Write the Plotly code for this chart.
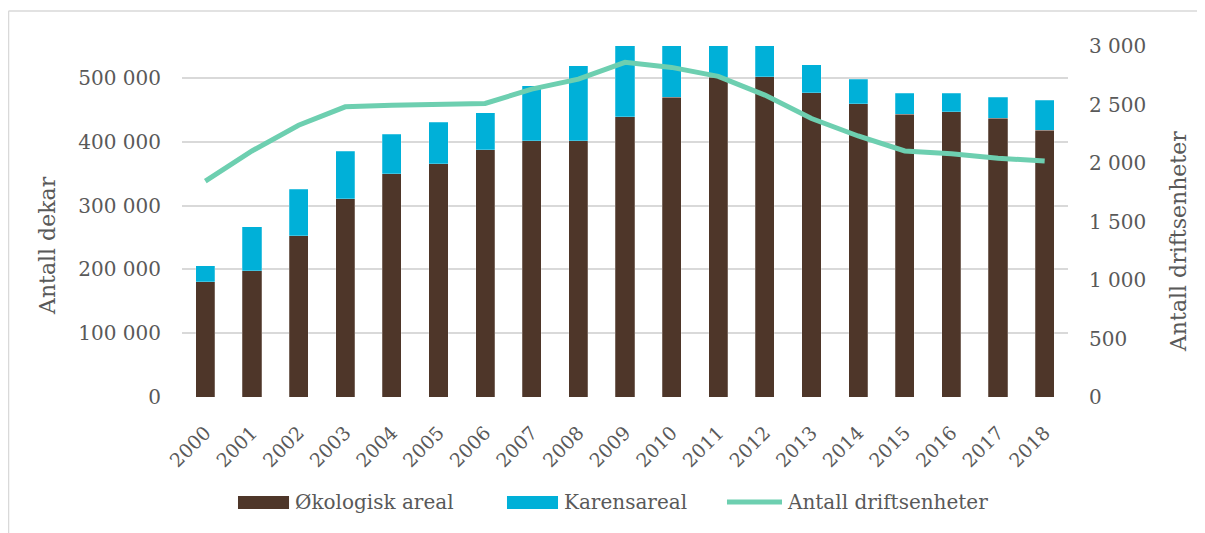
import plotly.graph_objects as go

years = [str(y) for y in range(2000, 2019)]
okologisk = [180700, 198000, 252800, 310800, 350000, 365700, 387600, 401300, 401800,
             439400, 469700, 501000, 502000, 476500, 459800, 443100, 446700, 436800, 418000]
karens = [25000, 69000, 73000, 74300, 62000, 64800, 58000, 86700, 117500,
          130000, 100000, 70000, 65000, 44000, 38000, 33000, 29000, 33000, 47000]
driftsenheter = [1845, 2103, 2323, 2480, 2494, 2505, 2509, 2631, 2717,
                 2860, 2817, 2740, 2580, 2380, 2231, 2103, 2080, 2040, 2017]

left_ticks = [0, 100000, 200000, 300000, 400000, 500000]
left_ticktext = ["0", "100 000", "200 000", "300 000", "400 000", "500 000"]
right_ticks = [0, 500, 1000, 1500, 2000, 2500, 3000]
right_ticktext = ["0", "500", "1 000", "1 500", "2 000", "2 500", "3 000"]

names = ["Økologisk areal", "Karensareal", "Antall driftsenheter"]
colors = ["#4E3629", "#00B0D8", "#6DCFB0"]
left_title = "Antall dekar"
right_title = "Antall driftsenheter"

FONT = "DejaVu Serif, Liberation Serif, serif"
GREY = "#595959"

fig = go.Figure()
fig.add_trace(go.Bar(x=years, y=okologisk, name=names[0],
                     marker=dict(color=colors[0], line=dict(color="rgba(255,255,255,0.4)", width=0.6))))
fig.add_trace(go.Bar(x=years, y=karens, name=names[1],
                     marker=dict(color=colors[1], line=dict(color="rgba(255,255,255,0.4)", width=0.6))))
fig.add_trace(go.Scatter(x=years, y=driftsenheter, name=names[2], yaxis="y2",
                         mode="lines", line=dict(color=colors[2], width=5)))

# custom legend (wide swatches as in the original)
legend_shapes = [
    dict(type="rect", xref="paper", yref="paper", x0=0.0632, x1=0.1208, y0=-0.319, y1=-0.282,
         fillcolor=colors[0], line=dict(width=0)),
    dict(type="rect", xref="paper", yref="paper", x0=0.3668, x1=0.4244, y0=-0.319, y1=-0.282,
         fillcolor=colors[1], line=dict(width=0)),
    dict(type="line", xref="paper", yref="paper", x0=0.6151, x1=0.6772, y0=-0.299, y1=-0.299,
         line=dict(color=colors[2], width=5)),
]
legend_text = [
    dict(x=0.1253, text=names[0]),
    dict(x=0.4289, text=names[1]),
    dict(x=0.6806, text=names[2]),
]
annotations = [dict(xref="paper", yref="paper", y=-0.299, xanchor="left", yanchor="middle",
                    showarrow=False, font=dict(size=20, color=GREY, family=FONT), **t)
               for t in legend_text]
annotations += [
    dict(xref="paper", yref="paper", x=-0.1524, y=0.433, text=left_title, textangle=-90,
         showarrow=False, xanchor="center", yanchor="middle", font=dict(size=22, color=GREY, family=FONT)),
    dict(xref="paper", yref="paper", x=1.124, y=0.444, text=right_title, textangle=-90,
         showarrow=False, xanchor="center", yanchor="middle", font=dict(size=22, color=GREY, family=FONT)),
]

frame = [
    dict(type="line", xref="paper", yref="paper", x0=-0.1958, x1=1.16, y0=1.1, y1=1.1,
         line=dict(color="#D9D9D9", width=1.5)),
    dict(type="line", xref="paper", yref="paper", x0=-0.1958, x1=-0.1958, y0=-0.42, y1=1.1,
         line=dict(color="#D9D9D9", width=1.5)),
]

fig.update_layout(
    width=1197, height=525,
    barmode="stack", bargap=0.59, showlegend=False,
    paper_bgcolor="white", plot_bgcolor="white",
    font=dict(family=FONT, color=GREY, size=20),
    margin=dict(l=174, r=137, t=38, b=136, autoexpand=False),
    xaxis=dict(tickangle=-45, tickfont=dict(size=19), showgrid=False, showline=False,
               ticks="", automargin=False, ticklabelstandoff=20),
    yaxis=dict(range=[0, 550000], tickvals=left_ticks, ticktext=left_ticktext,
               showgrid=True, gridcolor="#D9D9D9", gridwidth=1.5, zeroline=False,
               ticklabelstandoff=20, automargin=False),
    yaxis2=dict(range=[0, 3000], overlaying="y", side="right", tickvals=right_ticks,
                ticktext=right_ticktext, showgrid=False, zeroline=False,
                ticklabelstandoff=20, automargin=False),
    shapes=frame + legend_shapes,
    annotations=annotations,
)
fig.write_html("out.html")
